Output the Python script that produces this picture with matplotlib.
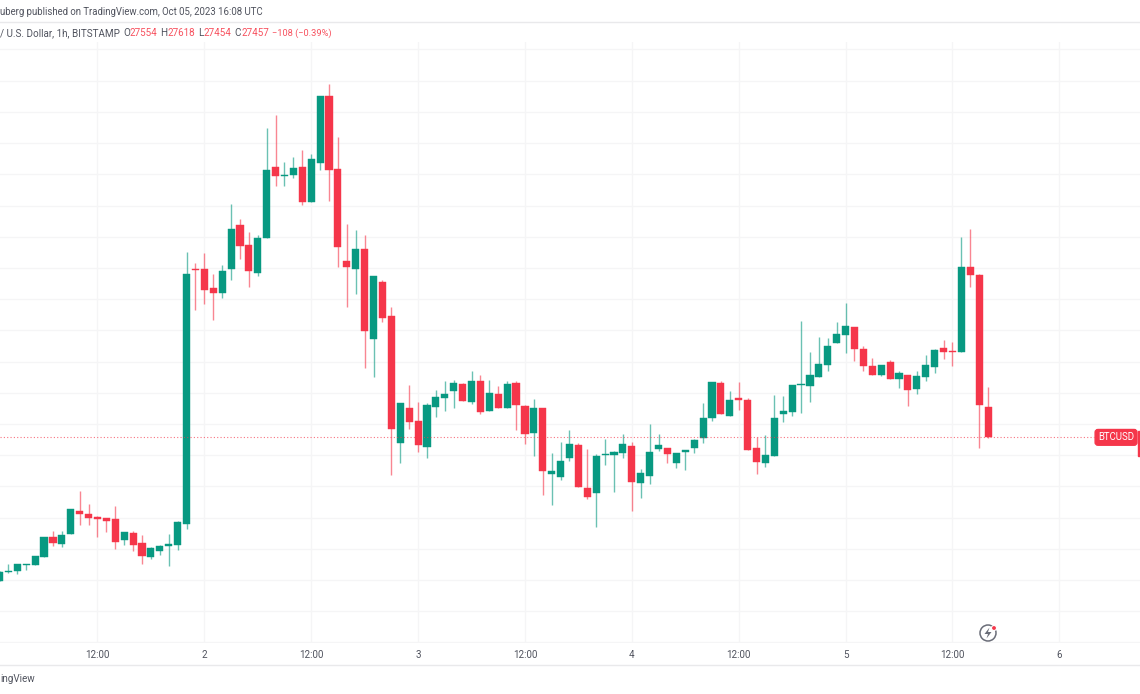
import numpy as np
import matplotlib
matplotlib.use("Agg")
import matplotlib.pyplot as plt
from matplotlib.patches import Circle, Polygon, Rectangle
from matplotlib.transforms import IdentityTransform

plt.rcParams['font.family'] = ['Roboto', 'DejaVu Sans']

# BTC/USD 1h candles, hours counted from Oct 1 00:00
opens = [26997, 27024, 27030, 27048, 27048, 27074, 27137, 27115, 27146, 27222, 27213, 27201, 27198, 27195,
         27127, 27150, 27119, 27074, 27093, 27108, 27112, 27180, 27997, 27995, 27935, 27921, 27996, 28137,
         28074, 27985, 28096, 28325, 28296, 28298, 28323, 28211, 28336, 28551, 28316, 28022, 27996, 28061,
         27773, 27956, 27847, 27438, 27550, 27509, 27425, 27554, 27582, 27604, 27628, 27570, 27638, 27542,
         27597, 27551, 27632, 27558, 27472, 27550, 27338, 27330, 27392, 27432, 27295, 27279, 27401, 27402,
         27407, 27429, 27312, 27333, 27420, 27424, 27376, 27409, 27422, 27456, 27518, 27630, 27526, 27582,
         27576, 27422, 27376, 27397, 27531, 27538, 27624, 27622, 27652, 27689, 27759, 27784, 27811, 27741,
         27687, 27658, 27700, 27645, 27658, 27611, 27650, 27683, 27744, 27733, 27732, 28002, 27977, 27554]
highs = [27029, 27052, 27051, 27051, 27077, 27138, 27157, 27157, 27228, 27284, 27244, 27204, 27200, 27236,
         27154, 27156, 27143, 27105, 27112, 27147, 27188, 28051, 28015, 28048, 27980, 28010, 28204, 28157,
         28115, 28106, 28449, 28490, 28339, 28356, 28377, 28366, 28550, 28591, 28419, 28141, 28121, 28106,
         27973, 27961, 27876, 27566, 27625, 27570, 27566, 27608, 27637, 27641, 27631, 27670, 27656, 27641,
         27623, 27639, 27639, 27561, 27579, 27550, 27408, 27441, 27481, 27438, 27421, 27403, 27453, 27413,
         27467, 27441, 27355, 27499, 27467, 27424, 27408, 27416, 27452, 27566, 27634, 27638, 27606, 27634,
         27582, 27459, 27465, 27592, 27589, 27625, 27829, 27732, 27778, 27775, 27826, 27889, 27811, 27750,
         27712, 27690, 27704, 27670, 27658, 27670, 27720, 27739, 27769, 27764, 28098, 28124, 27982, 27618]
lows = [26997, 27023, 27020, 27031, 27048, 27074, 27110, 27105, 27146, 27177, 27177, 27139, 27155, 27099,
        27112, 27094, 27050, 27068, 27081, 27046, 27096, 27163, 27865, 27884, 27833, 27905, 27962, 28029,
        27938, 27975, 28096, 28261, 28261, 28289, 28202, 28211, 28314, 28215, 28004, 27876, 27916, 27679,
        27650, 27828, 27336, 27376, 27484, 27410, 27392, 27521, 27542, 27551, 27575, 27564, 27531, 27542,
        27551, 27551, 27480, 27436, 27397, 27273, 27241, 27320, 27380, 27298, 27260, 27170, 27369, 27281,
        27392, 27221, 27262, 27309, 27413, 27376, 27358, 27353, 27406, 27438, 27511, 27531, 27526, 27545,
        27416, 27341, 27363, 27397, 27507, 27526, 27536, 27570, 27652, 27671, 27759, 27727, 27701, 27671,
        27658, 27653, 27645, 27616, 27559, 27595, 27639, 27664, 27708, 27686, 27729, 27938, 27424, 27454]
closes = [27027, 27029, 27050, 27050, 27076, 27137, 27119, 27143, 27227, 27212, 27198, 27196, 27190, 27123,
          27153, 27112, 27076, 27102, 27109, 27114, 27187, 27982, 27993, 27929, 27921, 27991, 28124, 28070,
          27990, 28097, 28314, 28295, 28299, 28320, 28212, 28348, 28550, 28313, 28068, 28003, 28061, 27799,
          27973, 27841, 27485, 27566, 27505, 27433, 27561, 27587, 27597, 27630, 27575, 27638, 27538, 27599,
          27551, 27628, 27562, 27469, 27552, 27348, 27348, 27382, 27437, 27298, 27265, 27398, 27404, 27411,
          27435, 27314, 27342, 27411, 27433, 27403, 27408, 27416, 27448, 27519, 27634, 27531, 27576, 27576,
          27416, 27378, 27401, 27519, 27543, 27625, 27629, 27658, 27692, 27751, 27787, 27814, 27740, 27686,
          27658, 27690, 27645, 27663, 27609, 27653, 27690, 27736, 27730, 27730, 28002, 27978, 27560, 27457]

tick_hours = [12, 24, 36, 48, 60, 72, 84, 96, 108, 120]
tick_labels = ['12:00', '2', '12:00', '3', '12:00', '4', '12:00', '5', '12:00', '6']
grid_prices = np.arange(26800, 28800, 100)

hours = np.arange(1, len(opens) + 1)
opens = np.array(opens)
highs = np.array(highs)
lows = np.array(lows)
closes = np.array(closes)

GREEN = '#089981'
RED = '#f5364a'
TEXT = '#50535e'
FONT = 7.1
W, H = 1140, 694

fig = plt.figure(figsize=(W / 100, H / 100), dpi=100, facecolor='white')
# pane runs from y=42 down to y=643 in pixels
ax = fig.add_axes([0, (H - 643) / H, 1, (643 - 42) / H])
ax.set_xlim(1.055, 129.06)
ax.set_ylim(26798, 28724)
for s in ax.spines.values():
    s.set_visible(False)

ax.set_yticks(grid_prices)
ax.set_xticks(tick_hours)
ax.set_xticklabels(tick_labels, fontsize=FONT, color=TEXT)
ax.tick_params(length=0, labelleft=False, pad=5)
ax.set_axisbelow(True)
ax.grid(True, color='#f5f5f6', lw=1.0)

up = closes >= opens
colors = np.where(up, GREEN, RED)
ax.vlines(hours, lows, highs, colors=colors, lw=1.0, alpha=0.6, zorder=2)
ax.bar(hours, np.abs(closes - opens), bottom=np.minimum(opens, closes), width=0.8,
       color=colors, edgecolor=colors, lw=0.3, zorder=3)

# last price line and tag
ax.plot([0.0, 0.96], [closes[-1], closes[-1]], transform=ax.get_yaxis_transform(),
        color=RED, ls=(0, (1, 2)), lw=0.8, alpha=0.7, zorder=4)
ax.text(0.979, closes[-1], 'BTCUSD', transform=ax.get_yaxis_transform(), color='white',
        fontsize=6.9, ha='center', va='center', zorder=6,
        bbox=dict(boxstyle='round,pad=0.3', fc=RED, ec=RED))
ax.add_patch(Rectangle((1138 / W, 27397), 2 / W, 81, transform=ax.get_yaxis_transform(),
                       color=RED, zorder=6))

# borders
fig.add_artist(plt.Line2D([0, 1], [1 - 22 / H, 1 - 22 / H], color='#e9e9eb', lw=1))
fig.add_artist(plt.Line2D([0, 1], [1 - 665 / H, 1 - 665 / H], color='#e9e9eb', lw=1))


def px_text(x, y, s, color=TEXT, size=FONT):
    fig.text(x / W, 1 - y / H, s, color=color, fontsize=size, ha='left', va='center')


px_text(0, 12, 'uberg published on TradingView.com, Oct 05, 2023 16:08 UTC', size=6.95)
px_text(0, 33, '/ U.S. Dollar, 1h, BITSTAMP')
LEGEND_RED = '#f7525f'
for x, letter, value_x, value in [(123, 'O', 130, opens[-1]), (160, 'H', 167, highs[-1]),
                                  (198, 'L', 204, lows[-1]), (234, 'C', 241, closes[-1])]:
    px_text(x, 33, letter)
    px_text(value_x, 33, str(value), color=LEGEND_RED)
px_text(272, 33, '\u2212108 (\u22120.39%)', color=LEGEND_RED, size=6.7)
px_text(0, 679, 'ingView')

# lightning icon, in pixel coordinates
pix = IdentityTransform()
fig.add_artist(Circle((988, H - 633), 8, fill=False, ec='#6a6d78', lw=1.1, transform=pix))
fig.add_artist(Polygon([(989.5, H - 627.5), (984.5, H - 634), (988, H - 634), (986.5, H - 638.5),
                        (991.5, H - 632), (988, H - 632)], closed=True, fc='#6a6d78', ec='none', transform=pix))
fig.add_artist(Circle((994, H - 628), 2.5, fc=RED, ec='white', lw=0.8, transform=pix))

fig.savefig('out.png', dpi=100)
